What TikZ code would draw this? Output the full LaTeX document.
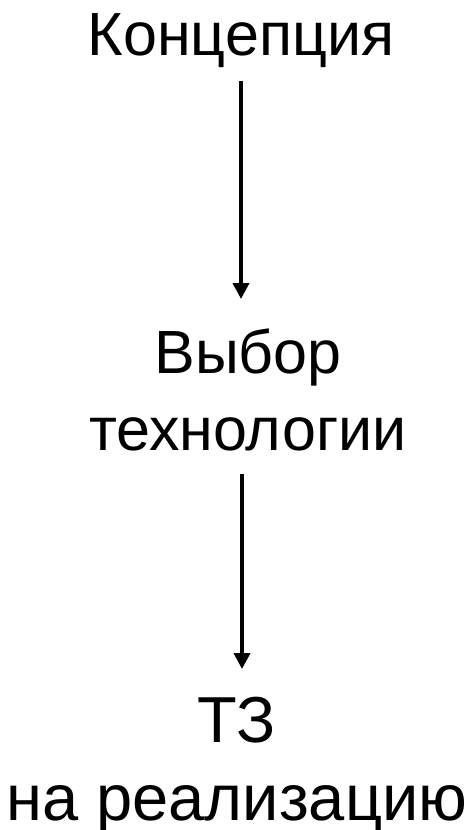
\documentclass[tikz,border=0pt]{standalone}
\usepackage{fontspec}
\setmainfont{Liberation Sans}
\usetikzlibrary{arrows.meta}
\begin{document}
\begin{tikzpicture}[x=1pt,y=1pt,
  lbl/.style={inner sep=0pt, anchor=base, align=center, font=\fontsize{61}{77}\selectfont},
  lblbig/.style={inner sep=0pt, anchor=base, align=center, font=\fontsize{65}{78}\selectfont},
  conn/.style={line width=3.7pt, -{Triangle[width=16pt,length=16pt]}}]
\useasboundingbox (0,0) rectangle (472,-830);
\node[lbl] (a) at (241,-55) {Концепция};
\node[lbl] (b) at (248,-450) {Выбор\\технологии};
\node[lblbig] (c) at (237,-820) {ТЗ\\на реализацию};
\draw[conn] ([yshift=-26pt]a.base) -- ([xshift=-7pt,yshift=151pt]b.base);
\draw[conn] ([xshift=-6pt,yshift=-24pt]b.base) -- ([xshift=5pt,yshift=151pt]c.base);
\end{tikzpicture}
\end{document}
